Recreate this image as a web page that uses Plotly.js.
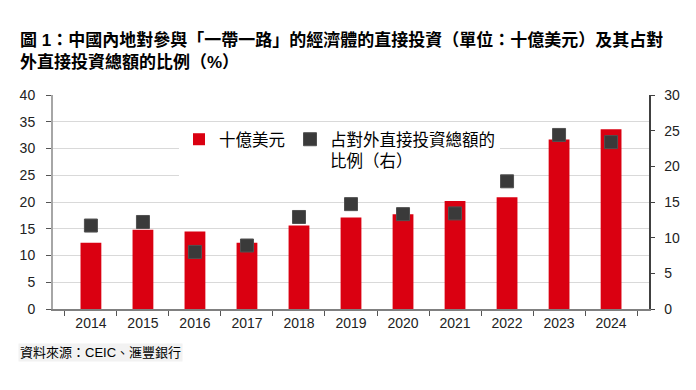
<!DOCTYPE html>
<html>
<head>
<meta charset="utf-8">
<script src="https://cdn.plot.ly/plotly-3.0.1.min.js"></script>
<style>html,body{margin:0;padding:0;background:#fff;}#chart{width:696px;height:390px;}</style>
</head>
<body>
<div id="chart"></div>
<script>
const years = ['2014','2015','2016','2017','2018','2019','2020','2021','2022','2023','2024'];
const fdiBillionUSD = [12.4, 14.8, 14.5, 12.4, 15.6, 17.1, 17.7, 20.2, 20.9, 31.7, 33.6];
const sharePct = [11.7, 12.2, 8.0, 8.9, 12.9, 14.7, 13.3, 13.4, 17.9, 24.4, 23.4];
const leftTicks = [0,5,10,15,20,25,30,35,40];
const rightTicks = [0,5,10,15,20,25,30];

const cjk = '"Liberation Sans", Arial, "Noto Sans CJK TC", sans-serif';
const tickFam = '"Liberation Sans", Arial, sans-serif';

const traces = [
  {
    type: 'bar', x: years, y: fdiBillionUSD, name: '十億美元',
    marker: {color: '#da0011'}, yaxis: 'y'
  },
  {
    type: 'scatter', mode: 'markers', x: years, y: sharePct,
    name: '占對外直接投資總額的<br>比例（右）',
    marker: {symbol: 'square', size: 13, color: '#3a3a3a', line: {color: '#505050', width: 1}},
    yaxis: 'y2'
  }
];

const layout = {
  width: 696, height: 390,
  margin: {l: 53, r: 47, t: 95, b: 81},
  paper_bgcolor: '#fff', plot_bgcolor: '#fff',
  showlegend: true,
  bargap: 0.6,
  title: {
    text: '<b>圖 1：中國內地對參與「一帶一路」的經濟體的直接投資（單位：十億美元）及其占對<br>外直接投資總額的比例（%）</b>',
    font: {family: cjk, size: 17, color: '#000'},
    x: 20/696, xref: 'container', xanchor: 'left',
    y: 1 - 46/390, yref: 'container', yanchor: 'top'
  },
  xaxis: {
    type: 'category',
    tickson: 'boundaries',
    ticks: 'outside', ticklen: 5, tickcolor: '#555', tickwidth: 1,
    showline: true, linecolor: '#808080', linewidth: 2,
    showgrid: false,
    tickfont: {family: tickFam, size: 14, color: '#222'},
    fixedrange: true
  },
  yaxis: {
    range: [0, 40], tickvals: leftTicks,
    ticks: 'outside', ticklen: 5, tickcolor: '#555', tickwidth: 1,
    showline: true, linecolor: '#a6a6a6', linewidth: 2,
    showgrid: true, gridcolor: '#d9d9d9', gridwidth: 1,
    zeroline: false,
    ticklabelstandoff: 8,
    tickfont: {family: tickFam, size: 14, color: '#222'},
    fixedrange: true
  },
  yaxis2: {
    range: [0, 30], tickvals: rightTicks,
    overlaying: 'y', side: 'right',
    ticks: 'outside', ticklen: 4, tickcolor: '#404040', tickwidth: 1,
    showline: true, linecolor: '#404040', linewidth: 1.5,
    showgrid: false, zeroline: false,
    ticklabelstandoff: 7,
    tickfont: {family: tickFam, size: 14, color: '#222'},
    fixedrange: true
  },
  legend: {
    orientation: 'h',
    x: (179-53)/596, xanchor: 'left',
    y: (309-122)/214, yanchor: 'top',
    bgcolor: '#fff', borderwidth: 0,
    font: {family: cjk, size: 16.5, color: '#000'},
    valign: 'top', itemwidth: 30,
    traceorder: 'normal'
  },
  annotations: [
    {
      text: '資料來源：CEIC、滙豐銀行',
      xref: 'paper', yref: 'paper',
      x: (18-53)/596, xanchor: 'left',
      y: (309-352.5)/214, yanchor: 'middle',
      showarrow: false,
      bgcolor: '#f2f2f2',
      font: {family: cjk, size: 13, color: '#000'}
    }
  ]
};

Plotly.newPlot('chart', traces, layout, {displayModeBar: false, staticPlot: true});
</script>
</body>
</html>
